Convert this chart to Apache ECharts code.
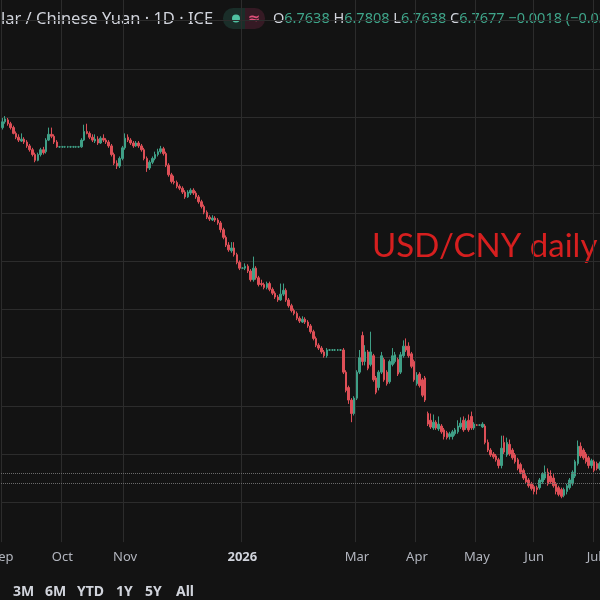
<!DOCTYPE html>
<html><head><meta charset="utf-8">
<script src="https://cdn.jsdelivr.net/npm/echarts@6/dist/echarts.min.js"></script>
<style>html,body{margin:0;padding:0;background:#131313;}#c{width:600px;height:600px;}</style>
</head><body><div id="c"></div>
<script>
// ---- data ----
const opens = [7.139,7.145,7.147,7.143,7.139,7.133,7.129,7.125,7.127,7.124,
7.120,7.116,7.111,7.105,7.111,7.116,7.114,7.126,7.132,7.130,
7.124,7.119,7.119,7.119,7.119,7.119,7.119,7.119,7.119,7.119,
7.126,7.135,7.133,7.129,7.125,7.127,7.123,7.128,7.126,7.124,
7.120,7.111,7.102,7.099,7.107,7.118,7.129,7.126,7.123,7.120,
7.123,7.120,7.116,7.107,7.097,7.103,7.107,7.111,7.114,7.117,
7.112,7.100,7.090,7.083,7.082,7.078,7.076,7.072,7.067,7.071,
7.074,7.071,7.067,7.062,7.057,7.051,7.046,7.043,7.045,7.043,
7.040,7.033,7.025,7.017,7.011,7.014,7.007,6.999,6.993,6.993,
6.995,6.990,6.981,6.993,6.983,6.977,6.976,6.973,6.977,6.971,
6.967,6.963,6.960,6.966,6.970,6.960,6.954,6.949,6.946,6.941,
6.937,6.940,6.937,6.933,6.927,6.920,6.913,6.910,6.906,6.902,
6.908,6.908,6.908,6.908,6.908,6.908,6.885,6.869,6.856,6.842,
6.858,6.885,6.923,6.896,6.906,6.893,6.902,6.879,6.869,6.885,
6.898,6.885,6.875,6.893,6.896,6.898,6.885,6.902,6.912,6.912,
6.904,6.896,6.873,6.883,6.877,6.879,6.842,6.835,6.827,6.833,
6.826,6.829,6.825,6.822,6.818,6.818,6.821,6.823,6.828,6.835,
6.827,6.835,6.839,6.827,6.830,6.830,6.828,6.829,6.812,6.804,
6.800,6.798,6.794,6.788,6.812,6.799,6.810,6.804,6.799,6.794,
6.789,6.783,6.777,6.773,6.769,6.766,6.765,6.765,6.771,6.775,
6.781,6.777,6.775,6.769,6.765,6.763,6.757,6.761,6.765,6.769,
6.777,6.790,6.808,6.804,6.800,6.796,6.788,6.792,6.790,6.785];
const closes = [7.145,7.148,7.143,7.139,7.133,7.129,7.126,7.127,7.124,7.120,
7.116,7.111,7.105,7.111,7.116,7.113,7.126,7.132,7.130,7.124,
7.119,7.119,7.119,7.119,7.119,7.119,7.119,7.119,7.119,7.126,
7.135,7.133,7.129,7.126,7.127,7.123,7.128,7.126,7.124,7.120,
7.111,7.102,7.099,7.107,7.118,7.128,7.126,7.123,7.120,7.123,
7.120,7.116,7.107,7.097,7.103,7.107,7.111,7.114,7.117,7.112,
7.100,7.090,7.083,7.082,7.078,7.076,7.072,7.067,7.072,7.074,
7.071,7.067,7.062,7.057,7.051,7.046,7.044,7.045,7.043,7.040,
7.033,7.025,7.017,7.012,7.014,7.007,6.999,6.993,6.993,6.995,
6.990,6.981,6.993,6.983,6.976,6.976,6.973,6.977,6.971,6.967,
6.963,6.960,6.966,6.970,6.960,6.954,6.949,6.946,6.941,6.938,
6.940,6.937,6.933,6.927,6.920,6.913,6.910,6.906,6.902,6.908,
6.908,6.908,6.908,6.908,6.908,6.885,6.866,6.856,6.842,6.858,
6.885,6.900,6.896,6.906,6.889,6.906,6.877,6.864,6.885,6.902,
6.877,6.873,6.896,6.902,6.903,6.883,6.903,6.912,6.908,6.902,
6.891,6.877,6.882,6.871,6.861,6.856,6.831,6.828,6.833,6.827,
6.831,6.823,6.818,6.817,6.821,6.823,6.825,6.829,6.832,6.825,
6.834,6.825,6.827,6.831,6.830,6.830,6.831,6.812,6.804,6.799,
6.797,6.794,6.788,6.806,6.802,6.812,6.800,6.796,6.792,6.785,
6.781,6.775,6.771,6.767,6.764,6.761,6.763,6.773,6.779,6.781,
6.769,6.771,6.767,6.761,6.758,6.756,6.763,6.767,6.773,6.781,
6.792,6.808,6.798,6.796,6.792,6.788,6.793,6.783,6.785,6.790];
const lows = [7.137,7.143,7.141,7.137,7.132,7.127,7.124,7.124,7.122,7.118,
7.114,7.109,7.103,7.104,7.109,7.111,7.112,7.125,7.128,7.122,
7.118,7.118,7.118,7.118,7.118,7.118,7.118,7.118,7.118,7.118,
7.125,7.132,7.127,7.124,7.123,7.121,7.122,7.124,7.122,7.118,
7.109,7.100,7.096,7.097,7.105,7.116,7.124,7.121,7.118,7.119,
7.118,7.114,7.105,7.093,7.095,7.101,7.105,7.109,7.112,7.110,
7.098,7.088,7.081,7.080,7.076,7.074,7.070,7.065,7.066,7.069,
7.069,7.065,7.060,7.055,7.049,7.044,7.042,7.042,7.041,7.038,
7.030,7.023,7.015,7.010,7.009,7.005,6.997,6.991,6.992,6.991,
6.988,6.979,6.979,6.981,6.974,6.974,6.971,6.971,6.969,6.965,
6.961,6.958,6.959,6.964,6.958,6.952,6.947,6.944,6.939,6.936,
6.936,6.935,6.931,6.925,6.918,6.911,6.908,6.904,6.900,6.900,
6.907,6.907,6.907,6.907,6.907,6.883,6.864,6.852,6.833,6.840,
6.856,6.883,6.892,6.892,6.887,6.891,6.875,6.862,6.866,6.883,
6.875,6.871,6.873,6.891,6.894,6.881,6.883,6.900,6.906,6.900,
6.889,6.875,6.871,6.869,6.859,6.854,6.829,6.826,6.825,6.825,
6.824,6.821,6.815,6.815,6.815,6.815,6.819,6.821,6.826,6.823,
6.825,6.823,6.825,6.825,6.829,6.829,6.827,6.810,6.802,6.797,
6.795,6.792,6.785,6.785,6.800,6.797,6.798,6.794,6.790,6.783,
6.779,6.773,6.769,6.765,6.762,6.758,6.758,6.763,6.769,6.773,
6.767,6.769,6.765,6.758,6.756,6.754,6.755,6.758,6.763,6.767,
6.775,6.788,6.796,6.794,6.790,6.785,6.785,6.781,6.783,6.783];
const highs = [7.149,7.151,7.149,7.145,7.141,7.135,7.132,7.133,7.129,7.126,
7.122,7.118,7.113,7.113,7.118,7.119,7.128,7.139,7.139,7.132,
7.126,7.120,7.120,7.120,7.120,7.120,7.120,7.120,7.120,7.128,
7.142,7.143,7.135,7.132,7.132,7.130,7.130,7.132,7.128,7.126,
7.122,7.113,7.105,7.109,7.120,7.133,7.132,7.128,7.125,7.125,
7.125,7.122,7.118,7.109,7.105,7.109,7.114,7.117,7.120,7.119,
7.114,7.102,7.092,7.089,7.084,7.080,7.078,7.074,7.074,7.076,
7.076,7.073,7.069,7.064,7.059,7.053,7.048,7.048,7.047,7.045,
7.042,7.035,7.027,7.020,7.020,7.020,7.009,7.001,6.994,6.998,
6.997,6.992,7.005,6.995,6.985,6.981,6.978,6.979,6.979,6.973,
6.969,6.965,6.977,6.977,6.972,6.962,6.956,6.951,6.948,6.943,
6.943,6.942,6.939,6.935,6.929,6.922,6.915,6.912,6.908,6.910,
6.909,6.909,6.909,6.909,6.909,6.910,6.887,6.871,6.858,6.860,
6.887,6.908,6.927,6.913,6.908,6.927,6.904,6.881,6.887,6.906,
6.900,6.887,6.898,6.910,6.906,6.900,6.906,6.918,6.920,6.916,
6.906,6.898,6.885,6.885,6.879,6.881,6.844,6.842,6.841,6.835,
6.839,6.831,6.827,6.824,6.823,6.825,6.827,6.835,6.838,6.839,
6.837,6.841,6.844,6.833,6.831,6.831,6.833,6.831,6.815,6.806,
6.802,6.800,6.796,6.819,6.819,6.817,6.815,6.806,6.801,6.796,
6.791,6.785,6.779,6.775,6.771,6.768,6.767,6.775,6.781,6.788,
6.785,6.783,6.779,6.771,6.767,6.765,6.765,6.769,6.775,6.783,
6.794,6.814,6.812,6.806,6.802,6.798,6.795,6.794,6.792,6.792];
const monthTickIndex = [0,22,45,88,130,152,174,195,217];
const monthTickLabels = ['Sep','Oct','Nov','2026','Mar','Apr','May','Jun','Jul'];
const priceLines = [6.7677, 6.7792];
const headerTitle = 'lar / Chinese Yuan · 1D · ICE';
const ohlcLabels = ['O','H','L','C'];
const ohlcValues = ['6.7638','6.7808','6.7638','6.7677'];
const changeText = '−0.0018 (−0.03';
const rangeButtons = ['3M','6M','YTD','1Y','5Y','All'];
const annotation = 'USD/CNY daily';

// ---- trading-day categories (weekdays from 1 Sep 2025) ----
const dates = [];
{
  const d = new Date(Date.UTC(2025, 8, 1));
  while (dates.length < opens.length) {
    const wd = d.getUTCDay();
    if (wd !== 0 && wd !== 6) dates.push(d.toISOString().slice(0, 10));
    d.setUTCDate(d.getUTCDate() + 1);
  }
}
const candles = opens.map((o, i) => [o, closes[i], lows[i], highs[i]]);
const tickMap = {};
monthTickIndex.forEach((idx, k) => { tickMap[idx] = monthTickLabels[k]; });
const isTick = (i) => Object.prototype.hasOwnProperty.call(tickMap, i);

const UP = '#3f9f86', DOWN = '#dd4f57', GRID = '#2c2c2c';
const FONT = '"Noto Sans", "DejaVu Sans", sans-serif';

const ohlcRich = ohlcLabels.map((l, k) => '{l|' + l + '}{v|' + ohlcValues[k] + '}').join(' ') + ' {v|' + changeText + '}';
const btnX = [13, 45, 77, 116, 145, 176];

const chart = echarts.init(document.getElementById('c'), null, { renderer: 'canvas' });
chart.setOption({
  backgroundColor: '#131313',
  animation: false,
  grid: { left: 1, right: -1, top: -27.4, bottom: 97.9, containLabel: false, outerBoundsMode: 'none' },
  xAxis: {
    type: 'category', data: dates, boundaryGap: true,
    axisLine: { show: false },
    axisTick: { show: true, interval: (i) => isTick(i), length: 40, lineStyle: { color: GRID } },
    axisLabel: {
      interval: (i) => isTick(i), margin: 49, hideOverlap: false,
      formatter: (v, i) => tickMap[i] === '2026' ? '{b|2026}' : (tickMap[i] || ''),
      color: '#b2b5be', fontSize: 13, fontFamily: FONT,
      rich: { b: { color: '#d1d4dc', fontWeight: 'bold', fontSize: 13, fontFamily: FONT } }
    },
    splitLine: { show: true, interval: (i) => isTick(i), lineStyle: { color: GRID, width: 1 } }
  },
  yAxis: {
    type: 'value', min: 6.75, max: 7.30, interval: 0.05, position: 'right',
    axisLabel: { show: false }, axisLine: { show: false }, axisTick: { show: false },
    splitLine: { show: true, lineStyle: { color: GRID, width: 1 } }
  },
  series: [{
    type: 'candlestick', data: candles, barWidth: 2,
    itemStyle: { color: UP, color0: DOWN, borderColor: UP, borderColor0: DOWN, borderWidth: 1 },
    markLine: {
      silent: true, symbol: ['none', 'none'], label: { show: false },
      lineStyle: { type: 'dotted', color: '#6a6a6a', width: 1 },
      data: priceLines.map(p => ({ yAxis: p }))
    }
  }],
  graphic: [
    { type: 'text', x: 1, y: 19, style: { text: headerTitle, fill: '#d1d4dc', font: '16.5px ' + FONT, textVerticalAlign: 'middle' } },
    { type: 'rect', shape: { x: 223, y: 8, width: 22, height: 21, r: [10, 0, 0, 10] }, style: { fill: '#1a2e29' } },
    { type: 'rect', shape: { x: 245, y: 8, width: 20, height: 21, r: [0, 10, 10, 0] }, style: { fill: '#351a24' } },
    { type: 'circle', shape: { cx: 236, cy: 18.5, r: 4 }, style: { fill: '#4fc2a2' } },
    { type: 'text', x: 254, y: 19, style: { text: '≈', fill: '#e0507a', font: 'bold 15px ' + FONT, textAlign: 'center', textVerticalAlign: 'middle' } },
    { type: 'text', x: 273, y: 19, style: {
        text: ohlcRich, textVerticalAlign: 'middle', font: '14.5px ' + FONT,
        rich: { l: { fill: '#d1d4dc', font: '14.5px ' + FONT }, v: { fill: '#3fa58a', font: '14.5px ' + FONT } }
    } },
    { type: 'text', x: 372, y: 246, style: { text: annotation, fill: '#d61f1f', font: '33px Lato, ' + FONT, textVerticalAlign: 'middle' } },
  ].concat(rangeButtons.map((t, k) => ({
    type: 'text', x: btnX[k], y: 592, style: { text: t, fill: '#d1d4dc', font: 'bold 14px ' + FONT, textVerticalAlign: 'middle' }
  })))
});
</script></body></html>
